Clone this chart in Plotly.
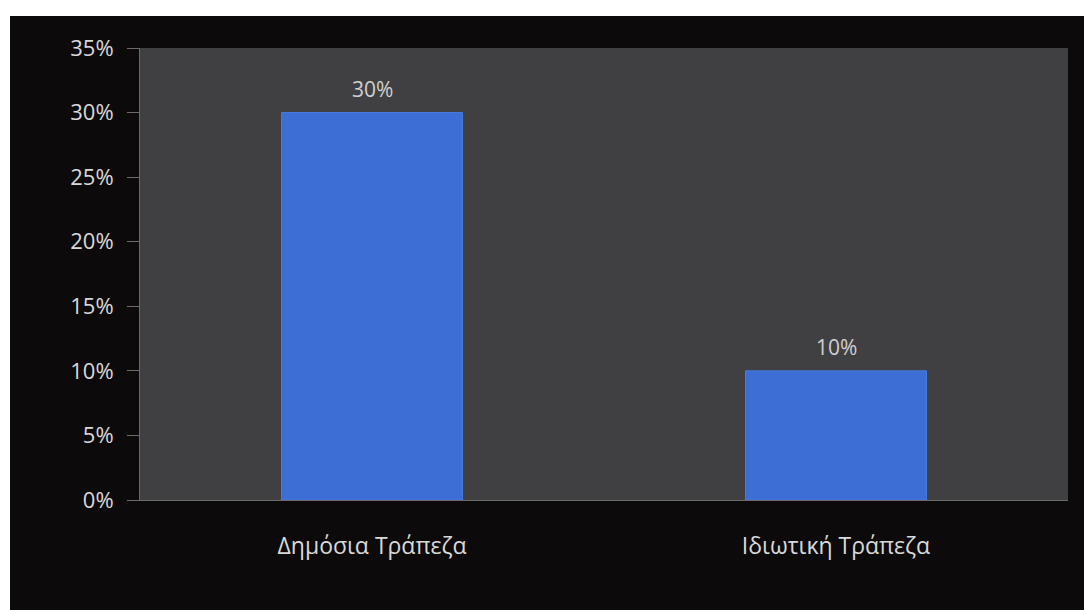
import plotly.graph_objects as go

categories = ["Δημόσια Τράπεζα", "Ιδιωτική Τράπεζα"]
shares = [30, 10]
y_ticks = [0, 5, 10, 15, 20, 25, 30, 35]
y_tick_labels = [f"{v}%" for v in y_ticks]

W, H = 1084, 610
ML, MR, MT, MB = 140, 16, 48, 110
pw = W - ML - MR
ph = H - MT - MB

fig = go.Figure(
    go.Bar(
        x=categories,
        y=shares,
        marker=dict(color="#3d6ed6", line=dict(color="#4a7be0", width=1)),
        width=0.39,
        hoverinfo="x+y",
    )
)

# value labels above each bar
for cat, val in zip(categories, shares):
    fig.add_annotation(
        x=cat, y=val, text=f"{val}%", showarrow=False,
        yanchor="middle", yshift=24,
        font=dict(size=21, color="#d0d0d0", family="Open Sans"),
    )

fig.update_layout(
    width=W,
    height=H,
    margin=dict(l=ML, r=MR, t=MT, b=MB),
    paper_bgcolor="#0c0a0b",
    plot_bgcolor="#404043",
    showlegend=False,
    font=dict(family="Open Sans", color="#d9d9d9"),
)

# white frame around the dark panel (top strip and left strip)
fig.add_shape(type="rect", xref="paper", yref="paper",
              x0=-ML / pw, x1=(W - ML) / pw,
              y0=(H - MB - 16) / ph, y1=(H - MB) / ph,
              fillcolor="white", line_width=0, layer="below")
fig.add_shape(type="rect", xref="paper", yref="paper",
              x0=-ML / pw, x1=(10 - ML) / pw,
              y0=-MB / ph, y1=(H - MB) / ph,
              fillcolor="white", line_width=0, layer="below")

fig.update_yaxes(
    range=[0, 35],
    tickvals=y_ticks,
    ticktext=y_tick_labels,
    showgrid=False,
    zeroline=False,
    showline=True,
    linecolor="#6a6a6a",
    linewidth=1,
    ticks="outside",
    ticklen=12,
    tickcolor="#6a6a6a",
    tickfont=dict(size=22, color="#d9d9d9"),
    ticklabelstandoff=9,
)
fig.update_xaxes(
    showgrid=False,
    showline=True,
    linecolor="#6a6a6a",
    linewidth=1,
    ticks="",
    tickfont=dict(size=23, color="#d9d9d9"),
    ticklabelstandoff=25,
)

fig.write_html("out.html")
